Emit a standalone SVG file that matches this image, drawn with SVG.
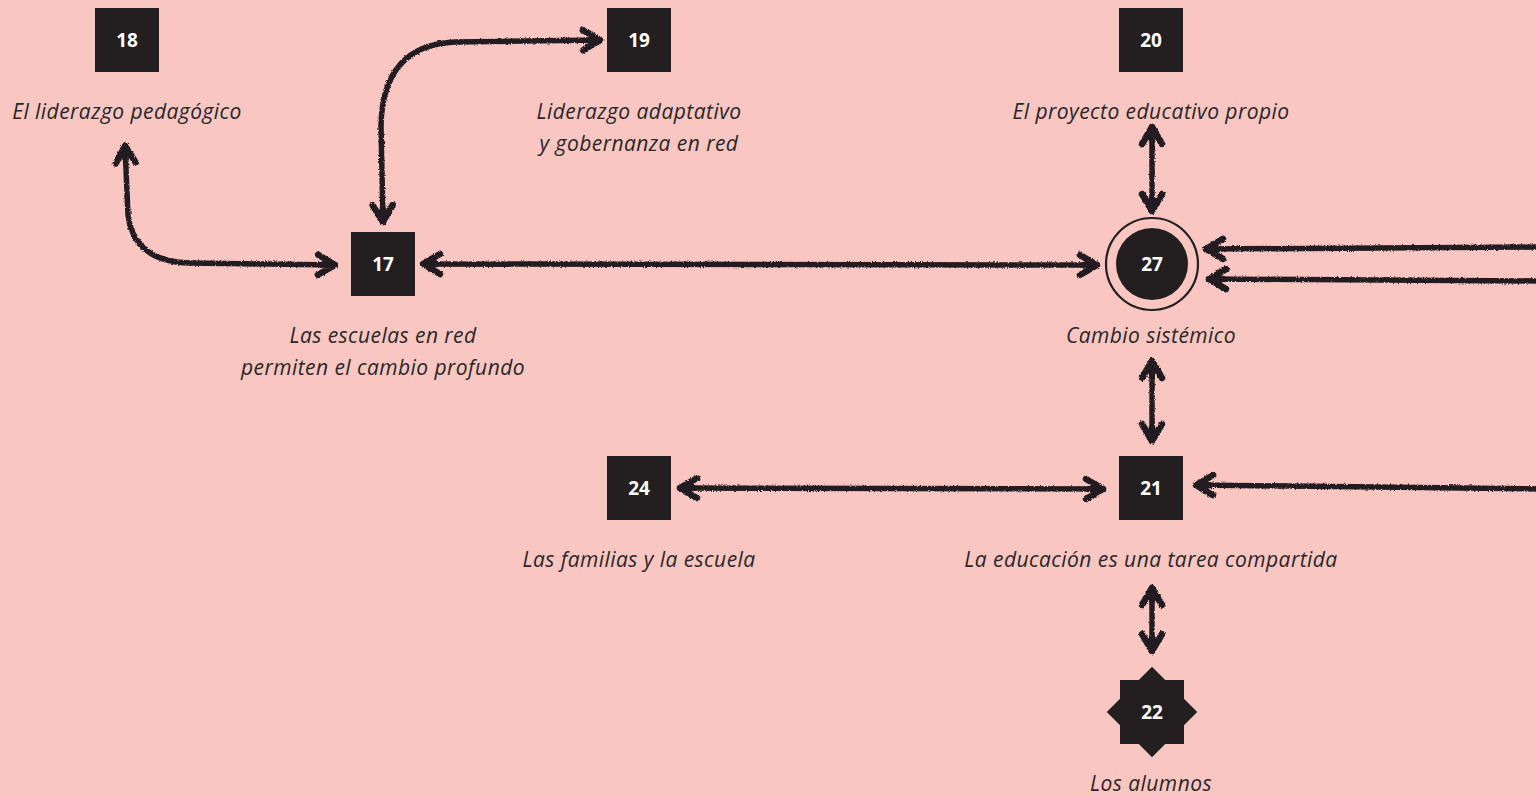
<svg xmlns="http://www.w3.org/2000/svg" width="1536" height="796" viewBox="0 0 1536 796">
<style>
.bg{fill:#f9c6c2}
.box{fill:#231f20}
.num{font-family:"Open Sans","Noto Sans",sans-serif;font-weight:700;font-size:19px;fill:#ffffff;text-anchor:middle}
.lbl{font-family:"Open Sans","Noto Sans",sans-serif;font-style:italic;font-size:21px;letter-spacing:0.45px;fill:#2a2627;text-anchor:middle}
.con{fill:none;stroke:#231f20;stroke-width:5.5;stroke-linecap:round;stroke-linejoin:round}
</style>
<defs>
<marker id="ah" markerUnits="userSpaceOnUse" viewBox="0 0 26 26" markerWidth="26" markerHeight="26" refX="22" refY="13" orient="auto-start-reverse" overflow="visible">
<path d="M5,3 L22,13 L5,23 M9,13 L22,13" fill="none" stroke="#231f20" stroke-width="6.5" stroke-linecap="round" stroke-linejoin="round"/>
</marker>
<filter id="rough" x="-5%" y="-5%" width="110%" height="110%">
<feTurbulence type="fractalNoise" baseFrequency="0.7" numOctaves="2" seed="3" result="n"/>
<feDisplacementMap in="SourceGraphic" in2="n" scale="3" xChannelSelector="R" yChannelSelector="G"/>
</filter>
</defs>
<rect class="bg" x="0" y="0" width="1536" height="796"/>
<g id="connectors" filter="url(#rough)">
<path class="con" d="M125,146 L128,215 Q134,262 190,263 L335,265" marker-start="url(#ah)" marker-end="url(#ah)"/>
<path class="con" d="M383,222 L381,125 Q383,45 455,42 L600,40" marker-start="url(#ah)" marker-end="url(#ah)"/>
<path class="con" d="M423,264 L1097,265" marker-start="url(#ah)" marker-end="url(#ah)"/>
<path class="con" d="M1152,127 L1152,211" marker-start="url(#ah)" marker-end="url(#ah)"/>
<path class="con" d="M1152,361 L1152,441" marker-start="url(#ah)" marker-end="url(#ah)"/>
<path class="con" d="M680,488 L1103,489" marker-start="url(#ah)" marker-end="url(#ah)"/>
<path class="con" d="M1152,588 L1152,651" marker-start="url(#ah)" marker-end="url(#ah)"/>
<path class="con" d="M1545,247 L1206,249" marker-end="url(#ah)"/>
<path class="con" d="M1545,281 L1209,279" marker-end="url(#ah)"/>
<path class="con" d="M1545,489 L1196,485" marker-end="url(#ah)"/>
</g>
<g id="n18"><rect class="box" x="95" y="8" width="64" height="64"/><text class="num" x="127" y="47">18</text><text class="lbl" x="127" y="119">El liderazgo pedagógico</text></g>
<g id="n19"><rect class="box" x="607" y="8" width="64" height="64"/><text class="num" x="639" y="47">19</text><text class="lbl" x="639" y="119">Liderazgo adaptativo</text><text class="lbl" x="639" y="151">y gobernanza en red</text></g>
<g id="n20"><rect class="box" x="1119" y="8" width="64" height="64"/><text class="num" x="1151" y="47">20</text><text class="lbl" x="1151" y="119">El proyecto educativo propio</text></g>
<g id="n17"><rect class="box" x="351" y="232" width="64" height="64"/><text class="num" x="383" y="271">17</text><text class="lbl" x="383" y="343">Las escuelas en red</text><text class="lbl" x="383" y="375">permiten el cambio profundo</text></g>
<g id="n27"><circle cx="1152" cy="264" r="46" fill="none" stroke="#231f20" stroke-width="2.2"/><circle class="box" cx="1152" cy="264" r="36"/><text class="num" x="1152" y="271">27</text><text class="lbl" x="1151" y="343">Cambio sistémico</text></g>
<g id="n24"><rect class="box" x="607" y="456" width="64" height="64"/><text class="num" x="639" y="495">24</text><text class="lbl" x="639" y="567">Las familias y la escuela</text></g>
<g id="n21"><rect class="box" x="1119" y="456" width="64" height="64"/><text class="num" x="1151" y="495">21</text><text class="lbl" x="1151" y="567">La educación es una tarea compartida</text></g>
<g id="n22"><rect class="box" x="1120" y="680" width="64" height="64"/><rect class="box" x="1120" y="680" width="64" height="64" transform="rotate(45 1152 712)"/><text class="num" x="1152" y="719">22</text><text class="lbl" x="1151" y="791">Los alumnos</text></g>
</svg>
